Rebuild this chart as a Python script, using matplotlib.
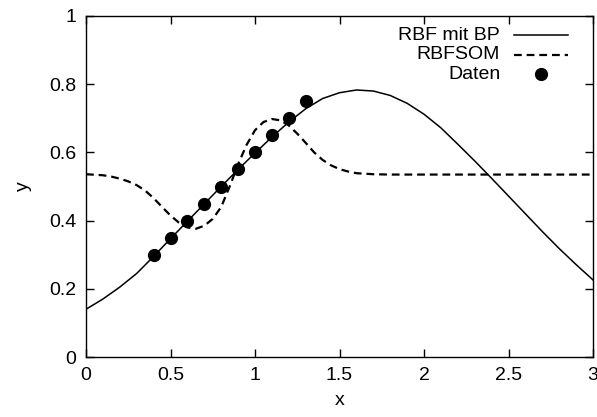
#!/usr/bin/env python3
# -*- coding: utf-8 -*-
"""
RBF mit BP vs. RBFSOM, gnuplot-artiger Plot.
"""
import matplotlib
matplotlib.use("Agg")
import matplotlib.pyplot as plt
from matplotlib.lines import Line2D
from matplotlib.ticker import FormatStrFormatter

# Daten
datenX = [0.4, 0.5, 0.6, 0.7, 0.8, 0.9, 1.0, 1.1, 1.2, 1.3]
datenY = [0.30, 0.35, 0.40, 0.45, 0.50, 0.55, 0.60, 0.65, 0.70, 0.75]

bpX = [0.0, 0.1, 0.2, 0.3, 0.4, 0.5, 0.6, 0.7, 0.8, 0.9, 1.0,
       1.1, 1.2, 1.3, 1.4, 1.5, 1.6, 1.7, 1.8, 1.9, 2.0,
       2.1, 2.2, 2.3, 2.4, 2.5, 2.6, 2.7, 2.8, 2.9, 3.0]
bpY = [0.140, 0.170, 0.205, 0.245, 0.295, 0.347, 0.398, 0.449, 0.500, 0.550,
       0.598, 0.645, 0.689, 0.728, 0.758, 0.775, 0.783, 0.780, 0.767, 0.744,
       0.712, 0.672, 0.624, 0.575, 0.524, 0.472, 0.420, 0.368, 0.318, 0.271,
       0.226]

somX = [0.0, 0.1, 0.15, 0.2, 0.25, 0.3, 0.35, 0.4, 0.45, 0.5, 0.55, 0.6,
        0.65, 0.7, 0.75, 0.8, 0.85, 0.9, 0.95, 1.0, 1.05, 1.1, 1.15, 1.2,
        1.25, 1.3, 1.35, 1.4, 1.45, 1.5, 1.55, 1.6, 1.7, 1.8, 2.0, 2.5, 3.0]
somY = [0.536, 0.533, 0.529, 0.523, 0.515, 0.504, 0.488, 0.466, 0.440, 0.415,
        0.394, 0.380, 0.376, 0.385, 0.405, 0.440, 0.500, 0.565, 0.622, 0.665,
        0.689, 0.698, 0.694, 0.679, 0.655, 0.628, 0.600, 0.578, 0.562, 0.551,
        0.544, 0.539, 0.536, 0.535, 0.535, 0.535, 0.535]

xTicks = [0, 0.5, 1, 1.5, 2, 2.5, 3]
yTicks = [0, 0.2, 0.4, 0.6, 0.8, 1]
labels = ["RBF mit BP", "RBFSOM", "Daten"]


def main():
    FontSize = 14
    plt.rcParams['font.family'] = ['Liberation Sans', 'DejaVu Sans']

    fig = plt.figure(figsize=(5.97, 4.17), dpi=100)
    ax = fig.add_axes([86 / 597, 60 / 417, 507 / 597, 341 / 417])

    ax.plot(bpX, bpY, color="k", lw=1.1)
    ax.plot(somX, somY, color="k", lw=1.6, dashes=[3.5, 2.2])
    ax.plot(datenX, datenY, "o", color="k", ms=8.5, mec="k")

    ax.set_xlim(0, 3)
    ax.set_ylim(0, 1)
    ax.set_xticks(xTicks)
    ax.set_yticks(yTicks)
    ax.xaxis.set_major_formatter(FormatStrFormatter("%g"))
    ax.yaxis.set_major_formatter(FormatStrFormatter("%g"))
    ax.tick_params(direction="in", length=5.5, width=1.0, top=True,
                   right=True, labelsize=FontSize, pad=7)
    for sp in ax.spines.values():
        sp.set_linewidth(1.0)

    ax.set_xlabel("x", fontsize=FontSize, labelpad=6)
    ax.set_ylabel("y", fontsize=FontSize, labelpad=12)

    # Legende im gnuplot-Stil: Text rechtsbuendig, Muster rechts daneben
    rows = [0.943, 0.886, 0.829]
    tx = 0.817
    l0, l1 = 0.844, 0.951
    for lab, yy in zip(labels, rows):
        ax.text(tx, yy, lab, transform=ax.transAxes, ha="right",
                va="center", fontsize=FontSize)
    ax.add_line(Line2D([l0, l1], [rows[0]] * 2, transform=ax.transAxes,
                       color="k", lw=1.1))
    ax.add_line(Line2D([l0, l1], [rows[1]] * 2, transform=ax.transAxes,
                       color="k", lw=1.6, dashes=[3.5, 2.2]))
    ax.add_line(Line2D([(l0 + l1) / 2], [rows[2]], transform=ax.transAxes,
                       marker="o", color="k", ms=8.5, ls="none"))

    fig.savefig("out.png", dpi=100)


if __name__ == "__main__":
    main()
